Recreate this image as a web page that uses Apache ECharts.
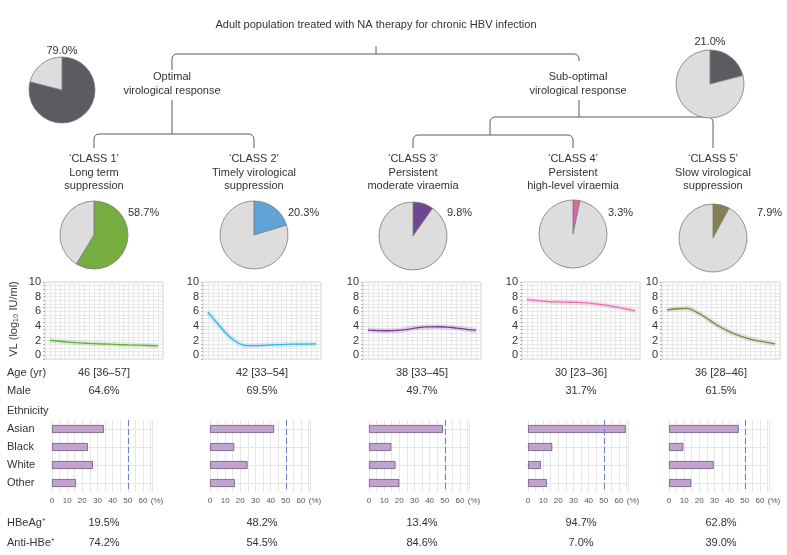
<!DOCTYPE html>
<html>
<head>
<meta charset="utf-8">
<title>VL trajectory classes</title>
<script src="https://cdn.jsdelivr.net/npm/echarts@6.0.0/dist/echarts.min.js"></script>
<style>
    html, body { margin: 0; padding: 0; background: #fff; }
    #main { width: 787px; height: 555px; }
</style>
</head>
<body>
<div id="main"></div>
<script>
// ------------------------------
// Data
// ------------------------------
var mainTitle = 'Adult population treated with NA therapy for chronic HBV infection';
var responseNames = [['Optimal', 'virological response'], ['Sub-optimal', 'virological response']];
var responseShare = [79.0, 21.0];

var classNames = ['\u2018CLASS 1\u2019', '\u2018CLASS 2\u2019', '\u2018CLASS 3\u2019', '\u2018CLASS 4\u2019', '\u2018CLASS 5\u2019'];
var classDesc = [
    ['Long term', 'suppression'],
    ['Timely virological', 'suppression'],
    ['Persistent', 'moderate viraemia'],
    ['Persistent', 'high-level viraemia'],
    ['Slow virological', 'suppression']
];
var classShare = [58.7, 20.3, 9.8, 3.3, 7.9];

// viral load curves (log10 IU/ml)
var vlTime = [1, 3, 5, 7, 9, 11, 13, 15, 17, 19, 21, 23];
var vlClass1 = [2.05, 1.92, 1.8, 1.7, 1.63, 1.57, 1.52, 1.47, 1.42, 1.38, 1.34, 1.3];
var vlClass2 = [5.9, 4.3, 2.8, 1.75, 1.32, 1.33, 1.4, 1.45, 1.5, 1.52, 1.53, 1.55];
var vlClass3 = [3.45, 3.38, 3.35, 3.4, 3.55, 3.75, 3.88, 3.9, 3.85, 3.72, 3.55, 3.4];
var vlClass4 = [7.6, 7.45, 7.35, 7.28, 7.25, 7.22, 7.15, 7.02, 6.85, 6.6, 6.35, 6.05];
var vlClass5 = [6.15, 6.35, 6.4, 5.9, 5.1, 4.2, 3.45, 2.85, 2.4, 2.05, 1.8, 1.55];
var vlTicks = [0, 2, 4, 6, 8, 10];

var ageText = ['46 [36\u201357]', '42 [33\u201354]', '38 [33\u201345]', '30 [23\u201336]', '36 [28\u201346]'];
var maleShare = [64.6, 69.5, 49.7, 31.7, 61.5];

var ethnicity = ['Asian', 'Black', 'White', 'Other'];
var ethClass1 = [34.2, 23.7, 27, 15.8];
var ethClass2 = [42.3, 16, 24.8, 16.4];
var ethClass3 = [48.8, 14.7, 17.5, 20];
var ethClass4 = [64.5, 16, 8.5, 12.5];
var ethClass5 = [46, 9.5, 29.5, 14.7];
var ethTicks = [0, 10, 20, 30, 40, 50, 60];
var ethRef = 50;

var hbeagShare = [19.5, 48.2, 13.4, 94.7, 62.8];
var antiHbeShare = [74.2, 54.5, 84.6, 7.0, 39.0];

(function () {
    "use strict";

    var FONT = '"Liberation Sans", Arial, sans-serif';
    var TXT = '#333333';
    var TREE = '#5a5a5a';

    var classColors = ['#76ad41', '#5fa3d8', '#6e4793', '#da68a8', '#867f4f'];
    var lineColors = ['#62b13c', '#35b4e6', '#7a3c97', '#e66eb0', '#868150'];
    var vlSeries = [vlClass1, vlClass2, vlClass3, vlClass4, vlClass5];
    var ethSeries = [ethClass1, ethClass2, ethClass3, ethClass4, ethClass5];

    // layout
    var colCenter = [104, 262, 422, 581, 721];
    var lineLeft = [45, 203, 363, 522, 662];
    var barLeft = [52, 210, 369, 528, 669];
    var pieX = [94, 254, 413, 573, 713];
    var pieY = [235, 235, 236, 234, 238];
    var pctX = [128, 288, 447, 608, 757];

    var chart = echarts.init(document.getElementById('main'));

    var grids = [], xAxes = [], yAxes = [], series = [], graphics = [];

    function text(x, y, s, align, size, color, extra) {
        var el = {
            type: 'text', x: x, y: y, silent: true,
            style: {
                text: s, fill: color || TXT, font: (size || 11) + 'px ' + FONT,
                align: align || 'center', verticalAlign: 'middle'
            }
        };
        if (extra) {
            for (var k in extra) el[k] = extra[k];
        }
        return el;
    }

    function seg(x1, y1, x2, y2) {
        return {
            type: 'line', silent: true,
            shape: { x1: x1, y1: y1, x2: x2, y2: y2 },
            style: { stroke: TREE, lineWidth: 1 }
        };
    }

    function corner(cx, cy, a0, a1) {
        return {
            type: 'arc', silent: true,
            shape: { cx: cx, cy: cy, r: 5, startAngle: a0, endAngle: a1, clockwise: true },
            style: { stroke: TREE, lineWidth: 1, fill: null }
        };
    }

    // bracket with rounded corners, legs going down to yl / yr
    function bracket(x1, x2, y, yl, yr) {
        var r = 5;
        graphics.push(seg(x1 + r, y, x2 - r, y));
        graphics.push(corner(x1 + r, y + r, Math.PI, Math.PI * 1.5));
        graphics.push(corner(x2 - r, y + r, Math.PI * 1.5, Math.PI * 2));
        graphics.push(seg(x1, y + r, x1, yl));
        graphics.push(seg(x2, y + r, x2, yr));
    }

    // ------------------------------
    // Tree
    // ------------------------------
    graphics.push(text(376, 25, mainTitle));
    graphics.push(seg(376, 46, 376, 54));
    bracket(172, 579, 54, 70, 61);

    graphics.push(text(172, 77, responseNames[0][0]));
    graphics.push(text(172, 91, responseNames[0][1]));
    graphics.push(seg(172, 100, 172, 134));
    bracket(94, 254, 134, 148, 148);

    graphics.push(text(578, 77, responseNames[1][0]));
    graphics.push(text(578, 91, responseNames[1][1]));
    graphics.push(seg(579, 100, 579, 117));
    bracket(490, 713, 117, 135, 148);
    bracket(413, 573, 135, 148, 148);

    // ------------------------------
    // Pies
    // ------------------------------
    function pie(cx, cy, r, share, color) {
        return {
            type: 'pie', silent: true, center: [cx, cy], radius: r,
            startAngle: 90, clockwise: true,
            label: { show: false }, labelLine: { show: false },
            emphasis: { disabled: true },
            itemStyle: { borderColor: '#7a7a7a', borderWidth: 0.8 },
            data: [
                { value: share, itemStyle: { color: color } },
                { value: 100 - share, itemStyle: { color: '#dddddd' } }
            ]
        };
    }

    series.push(pie(62, 90, 33, responseShare[0], '#5c5b61'));
    series.push(pie(710, 84, 34, responseShare[1], '#5c5b61'));
    graphics.push(text(62, 51, responseShare[0].toFixed(1) + '%'));
    graphics.push(text(710, 42, responseShare[1].toFixed(1) + '%'));

    for (var c = 0; c < 5; c++) {
        graphics.push(text(pieX[c], 159, classNames[c]));
        graphics.push(text(pieX[c], 173, classDesc[c][0]));
        graphics.push(text(pieX[c], 186, classDesc[c][1]));
        series.push(pie(pieX[c], pieY[c], 34, classShare[c], classColors[c]));
        graphics.push(text(pctX[c], 213, classShare[c].toFixed(1) + '%', 'left'));
    }

    // ------------------------------
    // Viral load line charts
    // ------------------------------
    for (var k = 0; k < 5; k++) {
        grids.push({
            left: lineLeft[k], top: 282, width: 118, height: 77,
            show: true, borderColor: '#d3d3d3', borderWidth: 1
        });
        xAxes.push({
            gridIndex: k, type: 'value', min: 0, max: 24, interval: 1,
            axisLine: { show: false }, axisTick: { show: false }, axisLabel: { show: false },
            splitLine: { lineStyle: { color: '#e8e8e8', width: 1 } }
        });
        yAxes.push({
            gridIndex: k, type: 'value', min: -0.5, max: 10, interval: 0.5,
            axisLine: { show: false },
            axisTick: { show: true, length: 2, lineStyle: { color: '#b0b0b0' } },
            axisLabel: {
                margin: 4, fontSize: 11, color: TXT, fontFamily: FONT,
                formatter: function (v) {
                    return vlTicks.indexOf(v) >= 0 ? String(v) : '';
                }
            },
            splitLine: { lineStyle: { color: '#e8e8e8', width: 1 } }
        });

        var pts = vlTime.map(function (t, i) { return [t, vlSeries[k][i]]; });
        // light band under the curve
        series.push({
            type: 'line', xAxisIndex: k, yAxisIndex: k, smooth: true, silent: true,
            showSymbol: false, data: pts,
            lineStyle: { color: lineColors[k], width: 5, opacity: 0.2 }
        });
        series.push({
            type: 'line', xAxisIndex: k, yAxisIndex: k, smooth: true, silent: true,
            showSymbol: false, data: pts,
            lineStyle: { color: lineColors[k], width: 1.3 }
        });

        graphics.push(text(colCenter[k], 373, ageText[k]));
        graphics.push(text(colCenter[k], 391, maleShare[k].toFixed(1) + '%'));
        graphics.push(text(colCenter[k], 523, hbeagShare[k].toFixed(1) + '%'));
        graphics.push(text(colCenter[k], 543, antiHbeShare[k].toFixed(1) + '%'));
    }

    graphics.push(text(14, 319, 'VL (log\u2081\u2080 IU/ml)', 'center', 11, TXT, { rotation: Math.PI / 2 }));
    graphics.push(text(7, 373, 'Age (yr)', 'left'));
    graphics.push(text(7, 391, 'Male', 'left'));
    graphics.push(text(7, 411, 'Ethnicity', 'left'));
    graphics.push(text(7, 523, 'HBeAg\u207a', 'left'));
    graphics.push(text(7, 543, 'Anti-HBe\u207a', 'left'));

    // ------------------------------
    // Ethnicity bar charts
    // ------------------------------
    for (var b = 0; b < 5; b++) {
        var gi = 5 + b;
        grids.push({ left: barLeft[b], top: 420, width: 100, height: 72 });
        xAxes.push({
            gridIndex: gi, type: 'value', min: 0, max: 66, interval: 5,
            axisLine: { show: false }, axisTick: { show: false },
            axisLabel: {
                margin: 5, fontSize: 8, color: '#555', fontFamily: FONT,
                formatter: function (v) {
                    return ethTicks.indexOf(v) >= 0 ? String(v) : '';
                }
            },
            splitLine: { lineStyle: { color: '#e6e6e6', width: 1 } }
        });
        yAxes.push({
            gridIndex: gi, type: 'category', inverse: true, data: ethnicity,
            axisLine: { show: false }, axisTick: { show: false },
            axisLabel: {
                show: b === 0, align: 'left', margin: barLeft[0] - 7,
                fontSize: 11, color: TXT, fontFamily: FONT
            },
            splitLine: { show: true, alignWithLabel: true, interval: 0, lineStyle: { color: '#e6e6e6', width: 1 } }
        });
        series.push({
            type: 'bar', xAxisIndex: gi, yAxisIndex: gi, silent: true,
            data: ethSeries[b], barWidth: 8,
            itemStyle: { color: '#c2a2ce', borderColor: '#6a5677', borderWidth: 0.8 },
            markLine: {
                silent: true, symbol: 'none', label: { show: false },
                lineStyle: { color: '#6f7fc6', type: [6, 3], width: 1.1 },
                data: [{ xAxis: ethRef }]
            }
        });
        graphics.push(text(barLeft[b] + 105, 501, '(%)', 'center', 8, '#555'));
    }

    chart.setOption({
        animation: false,
        backgroundColor: '#ffffff',
        textStyle: { fontFamily: FONT },
        grid: grids,
        xAxis: xAxes,
        yAxis: yAxes,
        series: series,
        graphic: { elements: graphics }
    });
})();
</script>
</body>
</html>
